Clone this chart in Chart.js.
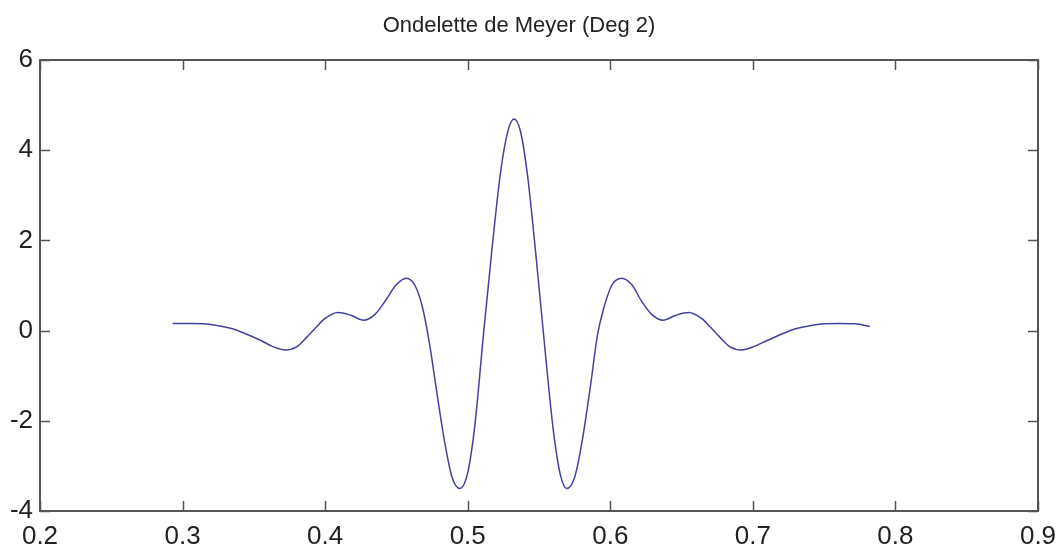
<!DOCTYPE html>
<html>
<head>
<meta charset="utf-8">
<title>Ondelette de Meyer</title>
<script src="https://cdn.jsdelivr.net/npm/chart.js@4"></script>
<style>
  body { margin: 0; background: #fff; }
  #wrap { width: 1059px; height: 552px; }
</style>
</head>
<body>
<div id="wrap"><canvas id="meyer" width="1059" height="552"></canvas></div>
<script>
// Meyer wavelet (degree 2), sampled by hand
const xVals = [0.293, 0.305, 0.315, 0.325, 0.335, 0.345, 0.355, 0.363, 0.372, 0.380,
    0.387, 0.393, 0.400, 0.409, 0.418, 0.427, 0.435, 0.442, 0.450, 0.457,
    0.463, 0.468, 0.473, 0.478, 0.484, 0.489, 0.4946, 0.500, 0.505, 0.511,
    0.517, 0.523, 0.528, 0.5325, 0.537, 0.542, 0.548, 0.554, 0.560, 0.565,
    0.5694, 0.575, 0.580, 0.586, 0.591, 0.595, 0.601, 0.608, 0.615, 0.622,
    0.629, 0.637, 0.646, 0.655, 0.664, 0.671, 0.677, 0.684, 0.692, 0.701,
    0.710, 0.720, 0.730, 0.740, 0.750, 0.760, 0.772, 0.782];
const yVals = [0.16, 0.16, 0.15, 0.11, 0.04, -0.08, -0.22, -0.35, -0.43, -0.36,
    -0.15, 0.05, 0.27, 0.40, 0.34, 0.23, 0.36, 0.65, 1.02, 1.16,
    1.00, 0.55, -0.25, -1.30, -2.50, -3.25, -3.50, -3.15, -2.10, -0.10,
    1.80, 3.50, 4.40, 4.69, 4.42, 3.43, 1.62, -0.35, -2.20, -3.20,
    -3.50, -3.25, -2.50, -1.25, -0.10, 0.45, 1.00, 1.16, 1.02, 0.65,
    0.36, 0.23, 0.34, 0.40, 0.27, 0.05, -0.15, -0.36, -0.43, -0.35,
    -0.22, -0.08, 0.04, 0.11, 0.15, 0.16, 0.15, 0.09];

const xTicks = [0.2, 0.3, 0.4, 0.5, 0.6, 0.7, 0.8, 0.9];
const xTickLabels = ['0.2', '0.3', '0.4', '0.5', '0.6', '0.7', '0.8', '0.9'];
const yTicks = [-4, -2, 0, 2, 4, 6];
const yTickLabels = ['-4', '-2', '0', '2', '4', '6'];

const titleText = 'Ondelette de Meyer (Deg 2)';

// box around the axes plus inward ticks on all four sides
const boxTicks = {
    id: 'boxTicks',
    afterDatasetsDraw(chart) {
        const { ctx, chartArea: a, scales } = chart;
        const len = 10;
        ctx.save();
        ctx.strokeStyle = '#555';
        ctx.lineWidth = 1.5;
        ctx.beginPath();
        xTicks.forEach(v => {
            const px = Math.round(scales.x.getPixelForValue(v)) + 0.5;
            ctx.moveTo(px, a.bottom); ctx.lineTo(px, a.bottom - len);
            ctx.moveTo(px, a.top); ctx.lineTo(px, a.top + len);
        });
        yTicks.forEach(v => {
            const py = Math.round(scales.y.getPixelForValue(v)) + 0.5;
            ctx.moveTo(a.left, py); ctx.lineTo(a.left + len, py);
            ctx.moveTo(a.right, py); ctx.lineTo(a.right - len, py);
        });
        ctx.stroke();
        ctx.lineWidth = 2;
        ctx.strokeRect(a.left, a.top, a.right - a.left, a.bottom - a.top);
        ctx.restore();
    }
};

new Chart(document.getElementById('meyer'), {
    type: 'scatter',
    data: {
        datasets: [{
            data: xVals.map((x, i) => ({ x: x, y: yVals[i] })),
            showLine: true,
            borderColor: '#42429e',
            borderWidth: 1.5,
            pointRadius: 0,
            cubicInterpolationMode: 'monotone'
        }]
    },
    options: {
        responsive: false,
        animation: false,
        layout: { padding: { right: 21, left: 0, bottom: 0 } },
        plugins: {
            legend: { display: false },
            tooltip: { enabled: false },
            title: {
                display: true,
                text: titleText,
                color: '#222',
                font: { family: 'Liberation Sans, Arial, sans-serif', size: 22, weight: 'normal' },
                padding: { top: 13, bottom: 20.6 }
            }
        },
        scales: {
            x: {
                type: 'linear',
                min: 0.2,
                max: 0.9,
                afterBuildTicks: s => { s.ticks = xTicks.map(v => ({ value: v })); },
                afterFit: s => { s.height = 41; s.paddingLeft = 0; s.paddingRight = 0; },
                grid: { display: false, drawTicks: false },
                border: { display: false },
                ticks: {
                    color: '#222',
                    padding: 10,
                    maxRotation: 0,
                    font: { family: 'Liberation Sans, Arial, sans-serif', size: 26 },
                    callback: (v, i) => xTickLabels[i]
                }
            },
            y: {
                min: -4,
                max: 6,
                afterBuildTicks: s => { s.ticks = yTicks.map(v => ({ value: v })); },
                afterFit: s => { s.width = 40; s.paddingTop = 0; s.paddingBottom = 0; },
                grid: { display: false, drawTicks: false },
                border: { display: false },
                ticks: {
                    color: '#222',
                    padding: 7,
                    font: { family: 'Liberation Sans, Arial, sans-serif', size: 26 },
                    callback: (v, i) => yTickLabels[i]
                }
            }
        }
    },
    plugins: [boxTicks]
});
</script>
</body>
</html>
